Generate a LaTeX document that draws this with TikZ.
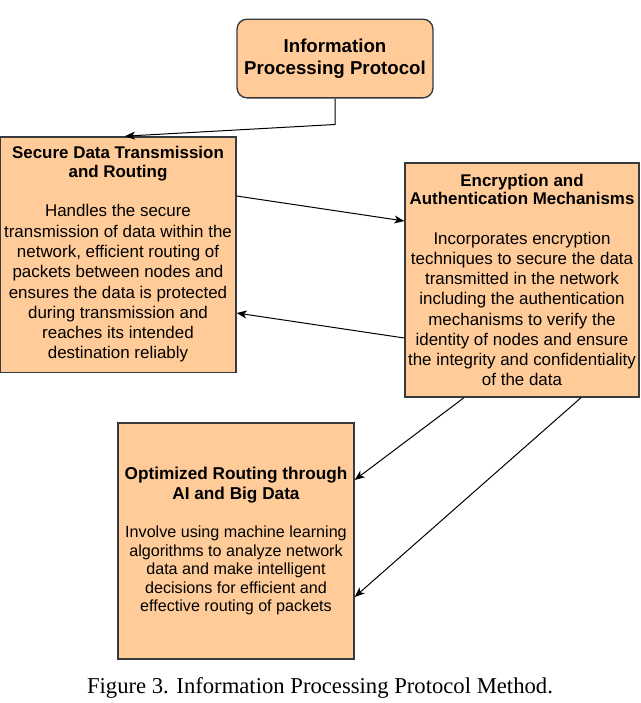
\documentclass[tikz,border=0pt]{standalone}
\usepackage{fontspec}
\setmainfont{Liberation Serif}
\newfontfamily\boxfont{Liberation Sans}
\usepackage{xcolor}
\usetikzlibrary{calc}
\usetikzlibrary{arrows.meta}
\definecolor{boxfill}{HTML}{FFCC99}
\definecolor{boxline}{HTML}{36393D}
\newcommand{\ttl}[1]{{\bfseries #1}}
\tikzset{
  block/.style={draw=boxline, line width=1pt, fill=boxfill, align=center, inner sep=0pt,
    minimum width=177pt, minimum height=176.5pt,
    font=\boxfont\fontsize{12.7}{15.2}\selectfont},
  topbox/.style={block, rounded corners=7.5pt, minimum width=147pt, minimum height=59pt,
    font=\boxfont\bfseries\fontsize{14}{16.5}\selectfont},
  conn/.style={-{Stealth[length=7.5pt,width=6pt,inset=2pt]}, line width=0.75pt, black},
}

\begin{document}
\begin{tikzpicture}[x=0.75pt, y=-0.75pt]
\useasboundingbox (0, 0) rectangle (640, 703);
\node[topbox] (ipp) at (335, 58.5) {Information\\Processing Protocol};
\node[block] (sdt) at (118, 254.5) {\ttl{Secure Data Transmission}\\[-1.5pt]\ttl{and Routing}\\[14.6pt]
  Handles the secure\\transmission of data within the\\network, efficient routing of\\packets between nodes and\\
  ensures the data is protected\\during transmission and\\reaches its intended\\destination reliably};
\node[block, minimum width=175.5pt, minimum height=175.5pt] (eam) at (522, 280) {\ttl{Encryption and}\\[-1.5pt]\ttl{Authentication Mechanisms}\\[14.6pt]
  Incorporates encryption\\techniques to secure the data\\transmitted in the network\\including the authentication\\
  mechanisms to verify the\\identity of nodes and ensure\\the integrity and confidentiality\\of the data};
\node[block, minimum height=177pt, font=\boxfont\fontsize{12.1}{13.9}\selectfont] (ort) at (236, 541)
  {{\fontsize{12.9}{15}\selectfont\bfseries Optimized Routing through}\\[1.1pt]{\fontsize{12.9}{15}\selectfont\bfseries AI and Big Data}\\[14.6pt]
  Involve using machine learning\\algorithms to analyze network\\data and make intelligent\\decisions for efficient and\\effective routing of packets};
\node[font=\fontsize{17}{20}\selectfont] (cap) at (320, 688) {Figure 3. Information Processing Protocol Method.};

\draw[conn] (ipp.south) -- ++(0, 26) -- ($(sdt.north)+(7, 0)$);
\draw[conn] ($(sdt.east)+(0, -58.5)$) -- ($(eam.west)+(0, -59)$);
\draw[conn] ($(eam.west)+(0, 58)$) -- ($(sdt.east)+(0, 58.5)$);
\draw[conn] ($(eam.south)+(-58, 0)$) -- ($(ort.east)+(0, -61)$);
\draw[conn] ($(eam.south)+(59, 0)$) -- ($(ort.east)+(0, 56)$);
\end{tikzpicture}
\end{document}
